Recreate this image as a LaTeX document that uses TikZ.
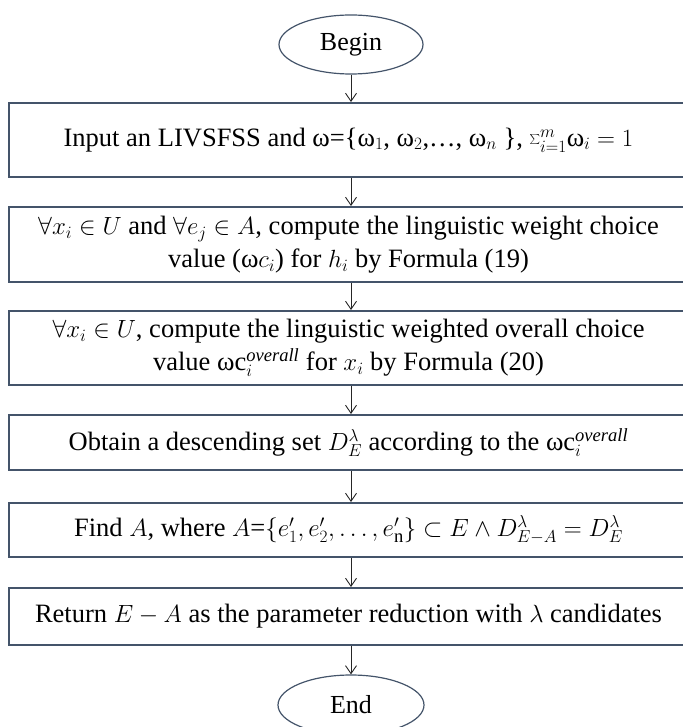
\documentclass[tikz,border=0pt]{standalone}
\usepackage{fontspec}
\setmainfont{Liberation Serif}
\usetikzlibrary{arrows.meta,shapes.geometric}
\definecolor{edgeblue}{RGB}{68,84,106}
\tikzset{
  stepbox/.style={draw=edgeblue, line width=2pt, rectangle, minimum width=679pt, inner sep=2pt, align=center, font=\fontsize{26.5}{33}\selectfont},
  term/.style={draw=edgeblue, line width=1.2pt, ellipse, inner sep=0pt, font=\fontsize{26}{28}\selectfont},
  arr/.style={draw=black!85, line width=0.9pt, -{Straight Barb[length=8pt,width=11pt]}}
}
\begin{document}
\begin{tikzpicture}[x=1pt,y=1pt]
\useasboundingbox (0,0) rectangle (682,-727);
\node[term, minimum width=144pt, minimum height=59pt] (begin) at (351,-44.5) {Begin};
\node[stepbox, minimum height=74pt] (b1) at (348.5,-140) {Input an LIVSFSS and ω=\{ω$_1$, ω$_2$,…, ω$_n$ \}, $\sum_{i=1}^{m}$ω$_i$ $=1$};
\node[stepbox, minimum height=75pt] (b2) at (348.5,-244.5) {$\forall x_i\in U$ and $\forall e_j\in A$, compute the linguistic weight choice\\ value (ω$c_i$) for $h_i$ by Formula (19)};
\node[stepbox, minimum height=74pt] (b3) at (348.5,-348) {$\forall x_i\in U$, compute the linguistic weighted overall choice\\ value ωc$_i^{\mathit{overall}}$ for $x_i$ by Formula (20)};
\node[stepbox, minimum height=55pt] (b4) at (348.5,-442.5) {Obtain a descending set $D_E^{\lambda}$ according to the ωc$_i^{\mathit{overall}}$};
\node[stepbox, minimum height=54pt] (b5) at (348.5,-530) {Find $A$, where $A$=$\{e'_1, e'_2, \ldots, e'_{\mathrm{n}}\}\subset E\wedge D^{\lambda}_{E-A}=D^{\lambda}_E$};
\node[stepbox, minimum height=57pt] (b6) at (348.5,-616.5) {Return $E-A$ as the parameter reduction with $\lambda$ candidates};
\node[term, minimum width=146pt, minimum height=60pt] (end) at (351,-705) {End};
\draw[arr] (begin.south) -- (begin.south |- b1.north);
\draw[arr] (b1.south -| begin) -- (b2.north -| begin);
\draw[arr] (b2.south -| begin) -- (b3.north -| begin);
\draw[arr] (b3.south -| begin) -- (b4.north -| begin);
\draw[arr] (b4.south -| begin) -- (b5.north -| begin);
\draw[arr] (b5.south -| begin) -- (b6.north -| begin);
\draw[arr] (b6.south -| begin) -- (end.north);
\end{tikzpicture}
\end{document}
